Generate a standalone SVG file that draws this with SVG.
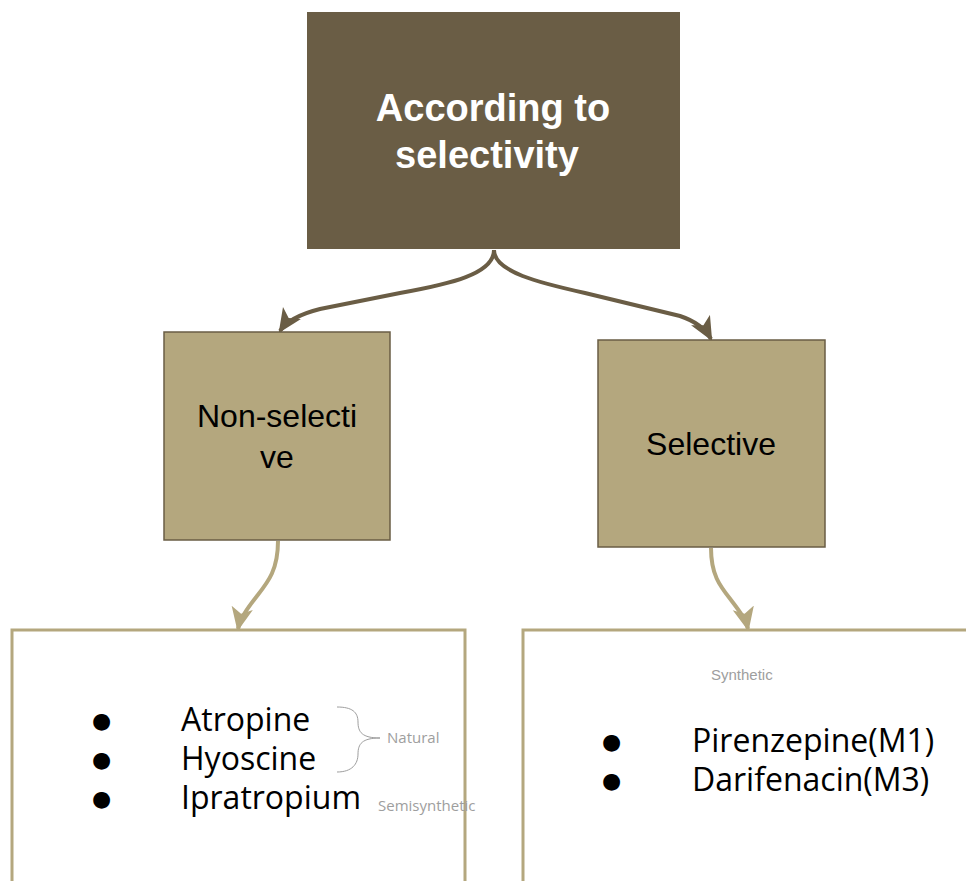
<svg xmlns="http://www.w3.org/2000/svg" width="966" height="881" viewBox="0 0 966 881">
<defs>
<style>
.dark{fill:#6a5d45;}
.mid{fill:#b4a77e;stroke:#6a5d45;stroke-width:1.5;}
.frame{fill:#ffffff;stroke:#b4a77e;stroke-width:3;}
.title{font-family:"Liberation Sans",Arial,sans-serif;font-weight:bold;font-size:38px;fill:#ffffff;text-anchor:middle;}
.lbl{font-family:"Liberation Sans",Arial,sans-serif;font-size:32px;fill:#000000;text-anchor:middle;}
.item{font-family:"Open Sans","Noto Sans",sans-serif;font-size:32px;fill:#000000;}
.bul{font-family:"DejaVu Sans",sans-serif;font-size:22px;fill:#000000;}
.note{font-family:"Open Sans","Noto Sans",sans-serif;font-size:15px;fill:#9e9e9e;}
.note2{font-family:"Liberation Sans",Arial,sans-serif;font-size:15px;fill:#9e9e9e;}
.c1{fill:none;stroke:#6a5d45;stroke-width:4;}
.c2{fill:none;stroke:#b4a77e;stroke-width:4;}
</style>
<marker id="ah1" viewBox="0 0 20 20" refX="18" refY="10" markerWidth="6" markerHeight="6" orient="auto" markerUnits="strokeWidth">
<path d="M0,1 L20,10 L0,19 L5,10 Z" fill="#6a5d45"/>
</marker>
<marker id="ah2" viewBox="0 0 20 20" refX="18" refY="10" markerWidth="6" markerHeight="6" orient="auto" markerUnits="strokeWidth">
<path d="M0,1 L20,10 L0,19 L5,10 Z" fill="#b4a77e"/>
</marker>
</defs>
<rect width="966" height="881" fill="#ffffff"/>
<g id="connectors">
<path class="c1" marker-end="url(#ah1)" d="M494,250 C494,274 450,284 400,293 L320,309 C300,314 286,322 280,331"/>
<path class="c1" marker-end="url(#ah1)" d="M494,250 C494,272 540,283 585,293 L680,316 C698,322 706,330 711,339"/>
<path class="c2" marker-end="url(#ah2)" d="M278,541 C278,570 268,582 257,596 C246,610 240,619 238,629"/>
<path class="c2" marker-end="url(#ah2)" d="M711,548 C711,575 720,586 731,600 C741,613 746,620 748,629"/>
</g>
<g id="node-root">
<rect class="dark" x="307" y="12" width="373" height="237"/>
<text class="title" x="493" y="121">According to</text>
<text class="title" x="487" y="168">selectivity</text>
</g>
<g id="node-nonselective">
<rect class="mid" x="164" y="332" width="226" height="208"/>
<text class="lbl" x="277" y="427">Non-selecti</text>
<text class="lbl" x="277" y="468">ve</text>
</g>
<g id="node-selective">
<rect class="mid" x="598" y="340" width="227" height="207"/>
<text class="lbl" x="711" y="455">Selective</text>
</g>
<g id="node-nonselective-list">
<path class="frame" d="M12,881 L12,630 L465,630 L465,881"/>
<text class="bul" x="92" y="728">●</text>
<text class="bul" x="92" y="767">●</text>
<text class="bul" x="92" y="806">●</text>
<text class="item" x="181" y="731">Atropine</text>
<text class="item" x="181" y="770">Hyoscine</text>
<text class="item" x="181" y="809">Ipratropium</text>
<path d="M337,707 C352,707 358,712 358,722 C358,732 362,738 380,738 C362,738 358,744 358,754 C358,764 352,772 337,772" fill="none" stroke="#9e9e9e" stroke-width="1"/>
<text class="note" x="387" y="743">Natural</text>
<text class="note" x="378" y="811">Semisynthetic</text>
</g>
<g id="node-selective-list">
<path class="frame" d="M523,881 L523,630 L968,630"/>
<text class="note2" x="711" y="680">Synthetic</text>
<text class="bul" x="602" y="749">●</text>
<text class="bul" x="602" y="788">●</text>
<text class="item" x="692" y="751.5">Pirenzepine(M1)</text>
<text class="item" x="692" y="790.5">Darifenacin(M3)</text>
</g>
</svg>
